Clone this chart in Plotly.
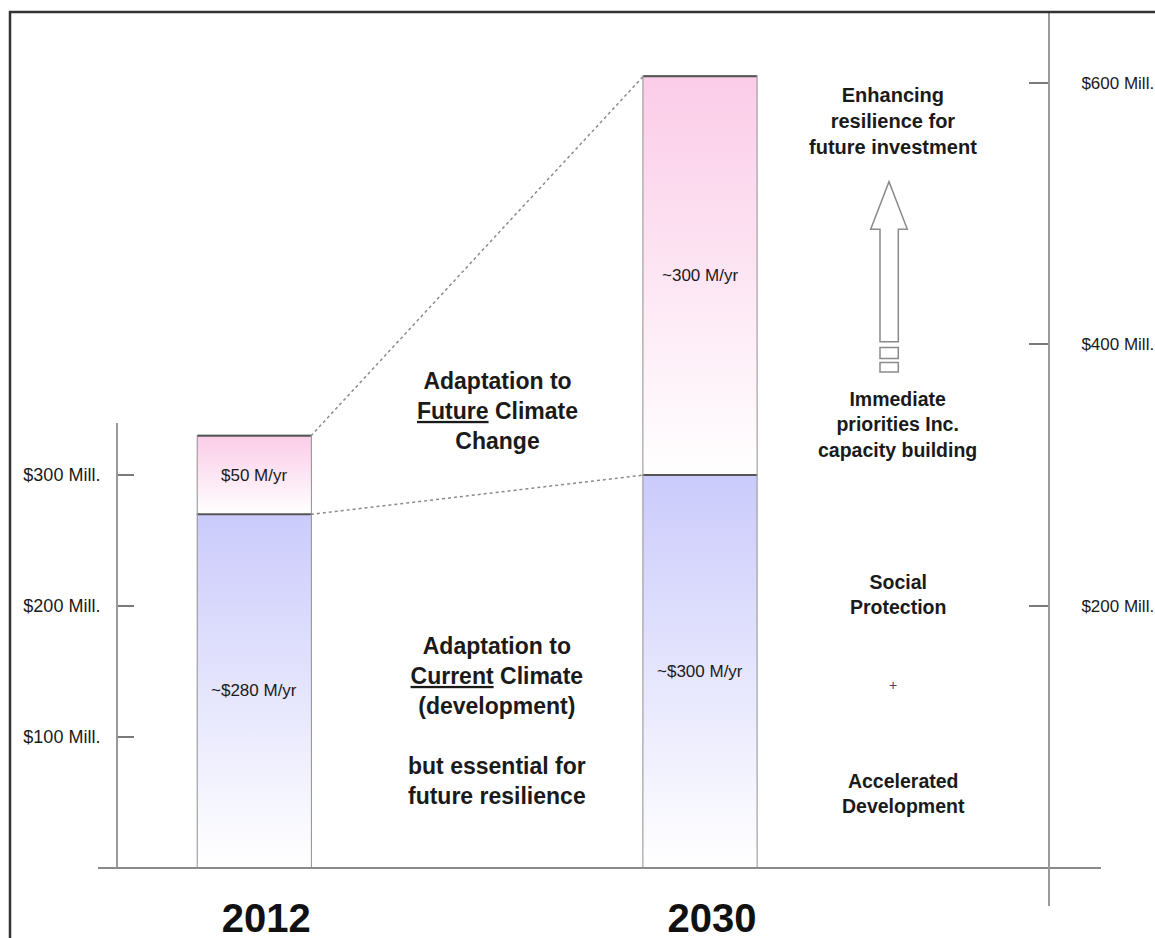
import plotly.graph_objects as go

# ---------------- data ----------------
years = ["2012", "2030"]
current_vals = [270, 300]        # Adaptation to current climate (M$/yr, as drawn)
future_vals = [60, 305]          # Adaptation to future climate change (M$/yr, as drawn)
current_labels = ["~$280 M/yr", "~$300 M/yr"]
future_labels = ["$50 M/yr", "~300 M/yr"]
left_tickvals = [100, 200, 300]
left_ticktext = ["$100 Mill.", "$200 Mill.", "$300 Mill."]
right_tickvals = [200, 400, 600]
right_ticktext = ["$200 Mill.", "$400 Mill.", "$600 Mill."]

# ---------------- geometry / style ----------------
W, H = 1155, 938
Y0PX, PXPER = 867.5, 1.308      # baseline pixel, pixels per M$
X0PX, XSTEP = 254.3, 445.7      # first bar centre pixel, distance between bars
BAR_W = 0.254
FONT = "Liberation Sans, Arial, Helvetica, sans-serif"
TXT = "#1a1a1a"
BLUE = "rgb(203,203,252)"
PINK = "rgb(251,204,232)"


def px_x(p):
    return p / W


def px_y(p):
    return 1 - p / H


def val_x(p):
    return (p - X0PX) / XSTEP


def val_y(p):
    return (Y0PX - p) / PXPER


fig = go.Figure()

xs = list(range(len(years)))
tops_cur = list(current_vals)
tops_fut = [c + f for c, f in zip(current_vals, future_vals)]

# gradient fills (top colour fading to white at the bottom of each segment)
for i in xs:
    for base, top, col in [(0, tops_cur[i], BLUE), (tops_cur[i], tops_fut[i], PINK)]:
        fig.add_trace(go.Scatter(
            x=[i - BAR_W / 2, i + BAR_W / 2, i + BAR_W / 2, i - BAR_W / 2, i - BAR_W / 2],
            y=[base, base, top, top, base],
            mode="lines", fill="toself", line=dict(width=0),
            fillgradient=dict(type="vertical", colorscale=[[0, "white"], [1, col]],
                              start=base, stop=top),
            hoverinfo="skip", showlegend=False))

# bar outlines
fig.add_trace(go.Bar(x=xs, y=current_vals, base=0, width=BAR_W,
                     marker=dict(color="rgba(0,0,0,0)", line=dict(color="#8f8f8f", width=2)),
                     hoverinfo="skip", showlegend=False))
fig.add_trace(go.Bar(x=xs, y=future_vals, base=current_vals, width=BAR_W,
                     marker=dict(color="rgba(0,0,0,0)", line=dict(color="#8f8f8f", width=2)),
                     hoverinfo="skip", showlegend=False))

# darker top edges of each segment
for i in xs:
    for top in (tops_cur[i], tops_fut[i]):
        fig.add_trace(go.Scatter(x=[i - BAR_W / 2, i + BAR_W / 2], y=[top, top], mode="lines",
                                 line=dict(color="#555555", width=2),
                                 hoverinfo="skip", showlegend=False))

# dotted connectors 2012 -> 2030
for tops in (tops_fut, tops_cur):
    fig.add_trace(go.Scatter(x=[xs[0] + BAR_W / 2, xs[1] - BAR_W / 2], y=[tops[0], tops[1]],
                             mode="lines", line=dict(color="#8a8a8a", width=1.5, dash="dot"),
                             hoverinfo="skip", showlegend=False))

# dummy traces so that the free axes are drawn
fig.add_trace(go.Scatter(x=[0], y=[0], yaxis="y2", mode="markers",
                         marker=dict(opacity=0), hoverinfo="skip", showlegend=False))
fig.add_trace(go.Scatter(x=[0], y=[0], yaxis="y3", mode="markers",
                         marker=dict(opacity=0), hoverinfo="skip", showlegend=False))

annotations = []
# segment labels
for i in xs:
    annotations.append(dict(x=i, y=current_vals[i] / 2, xref="x", yref="y",
                            text=current_labels[i], showarrow=False,
                            font=dict(family=FONT, size=17, color=TXT)))
    annotations.append(dict(x=i, y=current_vals[i] + future_vals[i] / 2, xref="x", yref="y",
                            text=future_labels[i], showarrow=False,
                            font=dict(family=FONT, size=17, color=TXT)))


def note(text, cx, cy, size, bold=True, color=TXT):
    annotations.append(dict(x=px_x(cx), y=px_y(cy), xref="paper", yref="paper",
                            text=text, showarrow=False, align="center",
                            xanchor="center", yanchor="middle",
                            font=dict(family=FONT, size=size, color=color,
                                      weight="bold" if bold else "normal")))


note("Adaptation to<br><u>Future</u> Climate<br>Change", 497, 411, 23)
note("Adaptation to<br><u>Current</u> Climate<br>(development)<br><br>but essential for<br>future resilience",
     497, 721, 23)
note("Enhancing<br>resilience for<br>future investment", 893, 121, 20)
note("Immediate<br>priorities Inc.<br>capacity building", 897, 424, 19.5)
note("Social<br>Protection", 898, 594, 19.5)
note("+", 893, 685, 14, bold=False, color="#5a3a6a")
note("Accelerated<br>Development", 903, 793, 19.5)

# hollow arrow
arrow_pts = [(880, 341.7), (880, 229.3), (870.7, 229.3), (889, 181.7),
             (907.3, 229.3), (898.3, 229.3), (898.3, 341.7)]
path = "M " + " L ".join(f"{px_x(a):.5f},{px_y(b):.5f}" for a, b in arrow_pts) + " Z"
shapes = [
    dict(type="path", path=path, xref="paper", yref="paper",
         line=dict(color="#8a8a8a", width=1.5), fillcolor="white"),
    dict(type="rect", xref="paper", yref="paper", x0=px_x(880), x1=px_x(898.3),
         y0=px_y(347.5), y1=px_y(358.5), line=dict(color="#8a8a8a", width=1.5)),
    dict(type="rect", xref="paper", yref="paper", x0=px_x(880), x1=px_x(898.3),
         y0=px_y(362.5), y1=px_y(372), line=dict(color="#8a8a8a", width=1.5)),
    # outer frame
    dict(type="rect", xref="paper", yref="paper", x0=px_x(10), x1=1.02,
         y0=px_y(12), y1=-0.02, line=dict(color="#333333", width=2.5)),
]

fig.update_layout(
    width=W, height=H, margin=dict(l=0, r=0, t=0, b=0, autoexpand=False),
    paper_bgcolor="white", plot_bgcolor="rgba(0,0,0,0)",
    barmode="overlay", showlegend=False,
    annotations=annotations, shapes=shapes,
    xaxis=dict(domain=[px_x(98), px_x(1101)], range=[val_x(98), val_x(1101)],
               anchor="free", position=px_y(Y0PX), automargin=False,
               showline=True, linecolor="#8a8a8a", linewidth=2,
               showgrid=False, zeroline=False, ticks="",
               tickvals=xs, ticktext=years, ticklabelshift=12, ticklabelstandoff=15,
               tickfont=dict(family=FONT, size=40, color="#111111", weight="bold")),
    yaxis=dict(domain=[0, 1], range=[val_y(H), val_y(0)], visible=False,
               automargin=False, showgrid=False, zeroline=False),
    yaxis2=dict(domain=[px_y(Y0PX), px_y(423)], range=[0, val_y(423)],
                anchor="free", position=px_x(117), side="left", automargin=False,
                showline=True, linecolor="#9a9a9a", linewidth=2,
                showgrid=False, zeroline=False,
                ticks="inside", ticklen=16, tickwidth=2, tickcolor="#7a7a7a",
                tickvals=left_tickvals, ticktext=left_ticktext, ticklabelstandoff=12,
                tickfont=dict(family=FONT, size=18, color=TXT)),
    yaxis3=dict(domain=[px_y(906), px_y(12)], range=[val_y(906), val_y(12)],
                anchor="free", position=px_x(1049), side="right", automargin=False,
                showline=True, linecolor="#9a9a9a", linewidth=2,
                showgrid=False, zeroline=False,
                ticks="inside", ticklen=19, tickwidth=2, tickcolor="#7a7a7a",
                tickvals=right_tickvals, ticktext=right_ticktext, ticklabelstandoff=28,
                tickfont=dict(family=FONT, size=17, color=TXT)),
)

fig.write_html(
    "out.html",
    config={"displayModeBar": False},
    post_script="document.body.style.margin='0';document.body.style.overflow='hidden';",
)
